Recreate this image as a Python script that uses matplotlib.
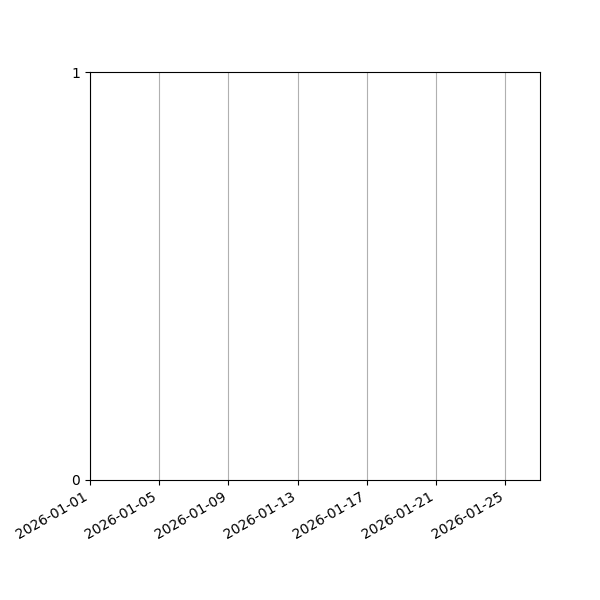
import matplotlib
matplotlib.use('Agg')
import matplotlib.pyplot as plt
import matplotlib.dates as mdates
import datetime as dt

# Empty chart: date range and y range only
start_date = dt.date(2026, 1, 1)
end_date = dt.date(2026, 1, 27)
tick_days = [1, 5, 9, 13, 17, 21, 25]
y_ticks = [0, 1]
dates = []
values = []

fig, ax = plt.subplots(figsize=(6, 6), dpi=100)
ax.plot(dates, values)

ax.set_xlim(start_date, end_date)
ax.set_ylim(0, 1)
ax.set_yticks(y_ticks)
ax.xaxis.set_major_locator(mdates.DayLocator(bymonthday=tick_days))
ax.xaxis.set_major_formatter(mdates.DateFormatter('%Y-%m-%d'))
ax.grid(axis='x', color='#b0b0b0', linewidth=0.8)

fig.autofmt_xdate()
fig.subplots_adjust(left=0.15)
fig.savefig('out.png')
